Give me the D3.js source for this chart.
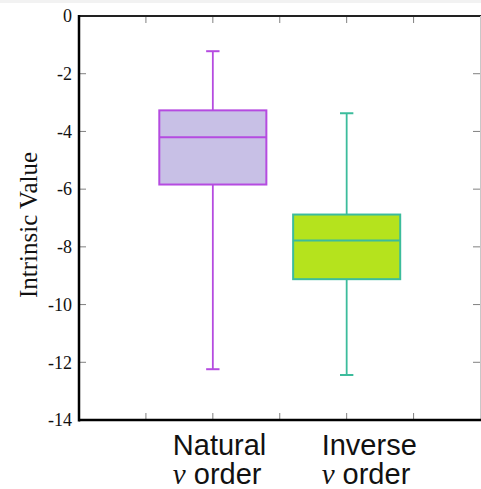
<!DOCTYPE html>
<html><head><meta charset="utf-8">
<script src="https://cdn.jsdelivr.net/npm/d3@7"></script>
<style>html,body{margin:0;padding:0;background:#fff;}svg{display:block;}</style>
</head><body>
<svg id="chart" width="481" height="489"></svg>
<script>
// ---- data ----
const categories = ["Natural", "Inverse"];
const catPositions = [2, 4];
const whiskerLow  = [-12.24, -12.44];
const q1          = [-5.84, -9.12];
const median      = [-4.2, -7.78];
const q3          = [-3.27, -6.88];
const whiskerHigh = [-1.22, -3.37];
const yTicks = [0, -2, -4, -6, -8, -10, -12, -14];
const xTicks = [1, 2, 3, 4, 5];
const fillColors   = ["#c8c0e6", "#b5e31d"];
const strokeColors = ["#b54be0", "#3cbc9c"];
const labelLine1 = ["Natural", "Inverse"];
const labelLine2 = ["order", "order"];

// ---- layout ----
const mLeft = 79, mRight = 480.5, mTop = 16, mBottom = 420;
const boxHalf = 0.8, capHalf = 0.1;
const labelOffsets = [-40, -25];

const svg = d3.select("#chart");
const x = d3.scaleLinear().domain([0, 6]).range([mLeft, mRight]);
const y = d3.scaleLinear().domain([-14, 0]).range([mBottom, mTop]);

// light top strip
svg.append("rect").attr("x",0).attr("y",0).attr("width",481).attr("height",3).attr("fill","#f2f2f2");

// ticks (inward)
const tickLen = 7, tickColor = "#808080";
const g = svg.append("g");
yTicks.forEach(t => {
  if (t === 0 || t === -14) return;
  g.append("line").attr("x1", mLeft).attr("x2", mLeft + tickLen).attr("y1", y(t)).attr("y2", y(t)).attr("stroke", tickColor).attr("stroke-width", 1);
  g.append("line").attr("x1", 480).attr("x2", 480 - tickLen).attr("y1", y(t)).attr("y2", y(t)).attr("stroke", tickColor).attr("stroke-width", 1);
});
xTicks.forEach(t => {
  g.append("line").attr("x1", x(t)).attr("x2", x(t)).attr("y1", mBottom).attr("y2", mBottom - tickLen).attr("stroke", tickColor).attr("stroke-width", 1);
  g.append("line").attr("x1", x(t)).attr("x2", x(t)).attr("y1", mTop).attr("y2", mTop + tickLen).attr("stroke", tickColor).attr("stroke-width", 1);
});

// y tick labels
yTicks.forEach(t => {
  svg.append("text").attr("x", mLeft - 7).attr("y", y(t)).attr("dy", "0.35em")
    .attr("text-anchor", "end").attr("font-family", "Liberation Serif, Times New Roman, serif")
    .attr("font-size", 18).attr("fill", "#111").text(String(t));
});

// boxes
categories.forEach((c, i) => {
  const cx = x(catPositions[i]);
  const col = strokeColors[i];
  const bg = svg.append("g");
  bg.append("line").attr("x1", cx).attr("x2", cx).attr("y1", y(whiskerHigh[i])).attr("y2", y(q3[i])).attr("stroke", col).attr("stroke-width", 1.8);
  bg.append("line").attr("x1", cx).attr("x2", cx).attr("y1", y(q1[i])).attr("y2", y(whiskerLow[i])).attr("stroke", col).attr("stroke-width", 1.8);
  bg.append("line").attr("x1", x(catPositions[i] - capHalf)).attr("x2", x(catPositions[i] + capHalf)).attr("y1", y(whiskerHigh[i])).attr("y2", y(whiskerHigh[i])).attr("stroke", col).attr("stroke-width", 2);
  bg.append("line").attr("x1", x(catPositions[i] - capHalf)).attr("x2", x(catPositions[i] + capHalf)).attr("y1", y(whiskerLow[i])).attr("y2", y(whiskerLow[i])).attr("stroke", col).attr("stroke-width", 2);
  bg.append("rect").attr("x", x(catPositions[i] - boxHalf)).attr("y", y(q3[i]))
    .attr("width", x(catPositions[i] + boxHalf) - x(catPositions[i] - boxHalf))
    .attr("height", y(q1[i]) - y(q3[i]))
    .attr("fill", fillColors[i]).attr("stroke", col).attr("stroke-width", 2);
  bg.append("line").attr("x1", x(catPositions[i] - boxHalf)).attr("x2", x(catPositions[i] + boxHalf)).attr("y1", y(median[i])).attr("y2", y(median[i])).attr("stroke", col).attr("stroke-width", 2);

  // category labels
  const lx = cx + labelOffsets[i];
  svg.append("text").attr("x", lx).attr("y", 455).attr("font-family", "Liberation Sans, Arial, sans-serif")
    .attr("font-size", 29).attr("fill", "#111").text(labelLine1[i]);
  const t2 = svg.append("text").attr("x", lx).attr("y", 484).attr("font-size", 29).attr("fill", "#111");
  t2.append("tspan").attr("font-family", "Liberation Serif, Times New Roman, serif").attr("font-style", "italic").text("\u03BD");
  t2.append("tspan").attr("font-family", "Liberation Sans, Arial, sans-serif").text(" " + labelLine2[i]);
});

// frame
svg.append("line").attr("x1", mLeft).attr("x2", 481).attr("y1", mTop).attr("y2", mTop).attr("stroke", "#222").attr("stroke-width", 2);
svg.append("line").attr("x1", 480.5).attr("x2", 480.5).attr("y1", mTop).attr("y2", mBottom).attr("stroke", "#c8c8c8").attr("stroke-width", 1);
svg.append("line").attr("x1", mLeft).attr("x2", mLeft).attr("y1", mTop - 1).attr("y2", mBottom + 1.5).attr("stroke", "#000").attr("stroke-width", 2.5);
svg.append("line").attr("x1", mLeft).attr("x2", 481).attr("y1", mBottom).attr("y2", mBottom).attr("stroke", "#000").attr("stroke-width", 2.5);

// y axis title
svg.append("text").attr("transform", "translate(37," + ((mTop + mBottom) / 2 + 7) + ") rotate(-90)")
  .attr("text-anchor", "middle").attr("font-family", "Liberation Serif, Times New Roman, serif")
  .attr("font-size", 25).attr("fill", "#111").text("Intrinsic Value");
</script>
</body></html>
